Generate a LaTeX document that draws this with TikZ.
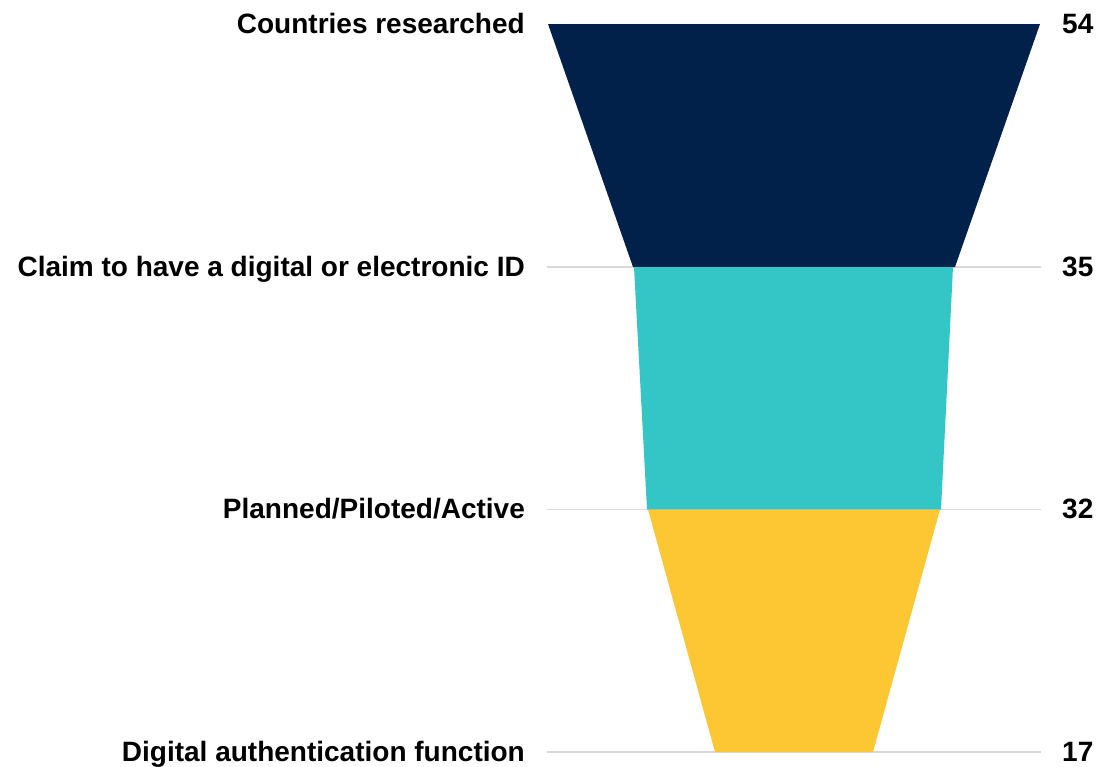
\documentclass[tikz,border=0pt]{standalone}
\usepackage{fontspec}
\setmainfont{Liberation Sans}
\definecolor{navy}{HTML}{01214A}
\definecolor{aqua}{HTML}{34C6C6}
\definecolor{gold}{HTML}{FDC734}
\definecolor{rulegrey}{HTML}{D9D9D9}

\begin{document}
\begin{tikzpicture}[x=1pt,y=-1pt,
    lab/.style={anchor=base east,inner sep=0pt,font=\fontsize{28}{32}\selectfont\bfseries},
    num/.style={anchor=base west,inner sep=0pt,font=\fontsize{28}{32}\selectfont\bfseries},
    grid/.style={rulegrey,line width=1.5pt}]
        \useasboundingbox (0,0) rectangle (1099,766);
        % lines behind the funnel
        \coordinate (a1) at (547,267); \coordinate (b1) at (1041,267);
        \coordinate (a2) at (547,509.5); \coordinate (b2) at (1041,509.5);
        \coordinate (a3) at (547,752); \coordinate (b3) at (1041,752);
        \draw[grid] (a1) -- (b1);
        \draw[grid] (a2) -- (b2);
        \draw[grid] (a3) -- (b3);
        % funnel
        \fill[navy] (548,24) -- (1040,24) -- (955,267) -- (633,267) -- cycle;
        \fill[aqua] (634,267) -- (953,267) -- (941,509.5) -- (647,509.5) -- cycle;
        \fill[gold] (648,509.5) -- (940,509.5) -- (873,752) -- (715,752) -- cycle;
        % labels
        \node[lab] (countries) at (525,33) {Countries researched};
        \node[lab] (claim) at (525,276.5) {Claim to have a digital or electronic ID};
        \node[lab] (planned) at (525,518) {Planned/Piloted/Active};
        \node[lab] (auth) at (525,761) {Digital authentication function};
        \node[num] (n54) at (1062,33) {54};
        \node[num] (n35) at (1062,276.5) {35};
        \node[num] (n32) at (1062,518) {32};
        \node[num] (n17) at (1062,761) {17};
    \end{tikzpicture}
\end{document}
